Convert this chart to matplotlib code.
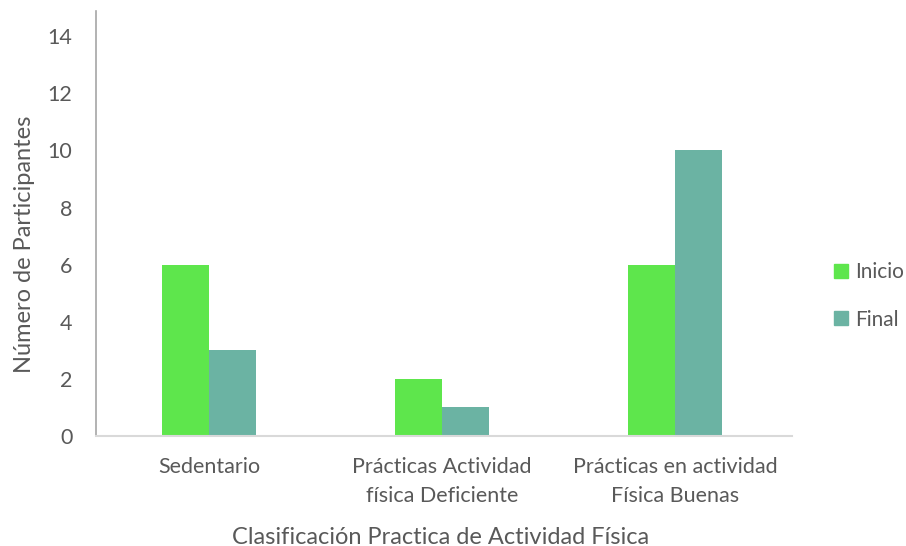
import matplotlib.pyplot as plt
import numpy as np
from matplotlib.patches import Patch

plt.rcParams['font.family'] = ['Lato', 'DejaVu Sans']

categories = ["Sedentario", "Prácticas Actividad\nfísica Deficiente", "Prácticas en actividad\nFísica Buenas"]
inicio = [6, 2, 6]
final = [3, 1, 10]
yticks = [0, 2, 4, 6, 8, 10, 12, 14]

green = "#5EE64C"
teal = "#6BB3A3"
text_col = "#595959"

fig = plt.figure(figsize=(9.06, 5.46), dpi=100)
ax = fig.add_axes([96 / 906, 1 - 436 / 546, (792 - 96) / 906, (436 - 11) / 546])

x = np.arange(len(categories))
w = 0.2
ax.bar(x - w / 2, inicio, w, color=green, label="Inicio")
ax.bar(x + w / 2, final, w, color=teal, label="Final")

ax.set_xlim(-0.485, 2.502)
ax.set_ylim(0, 14.88)
ax.set_yticks(yticks)
ax.set_xticks(x)
ax.set_xticklabels(categories, fontsize=15.5, color=text_col, linespacing=1.6)
ax.tick_params(axis='y', labelsize=15.5, labelcolor=text_col, length=0, pad=17)
ax.tick_params(axis='x', length=0, pad=15)

for s in ["top", "right"]:
    ax.spines[s].set_visible(False)
ax.spines["left"].set_color("#A6A6A6")
ax.spines["bottom"].set_color("#D9D9D9")
ax.spines["left"].set_linewidth(1.2)
ax.spines["bottom"].set_linewidth(1.5)

ax.set_ylabel("Número de Participantes", fontsize=17, color=text_col)
ax.yaxis.set_label_coords(-0.087, 0.45)
ax.set_xlabel("Clasificación Practica de Actividad Física", fontsize=17, color=text_col)
ax.xaxis.set_label_coords(0.495, -0.213)

handles = [Patch(color=green, label="Inicio"), Patch(color=teal, label="Final")]
fig.legend(handles=handles, loc="center left", bbox_to_anchor=(834 / 906, 1 - 296 / 546),
           frameon=False, fontsize=15, labelcolor=text_col, handlelength=0.65,
           handleheight=0.65, handletextpad=0.35, labelspacing=1.3,
           borderpad=0, borderaxespad=0)

fig.savefig("out.png", dpi=100)
